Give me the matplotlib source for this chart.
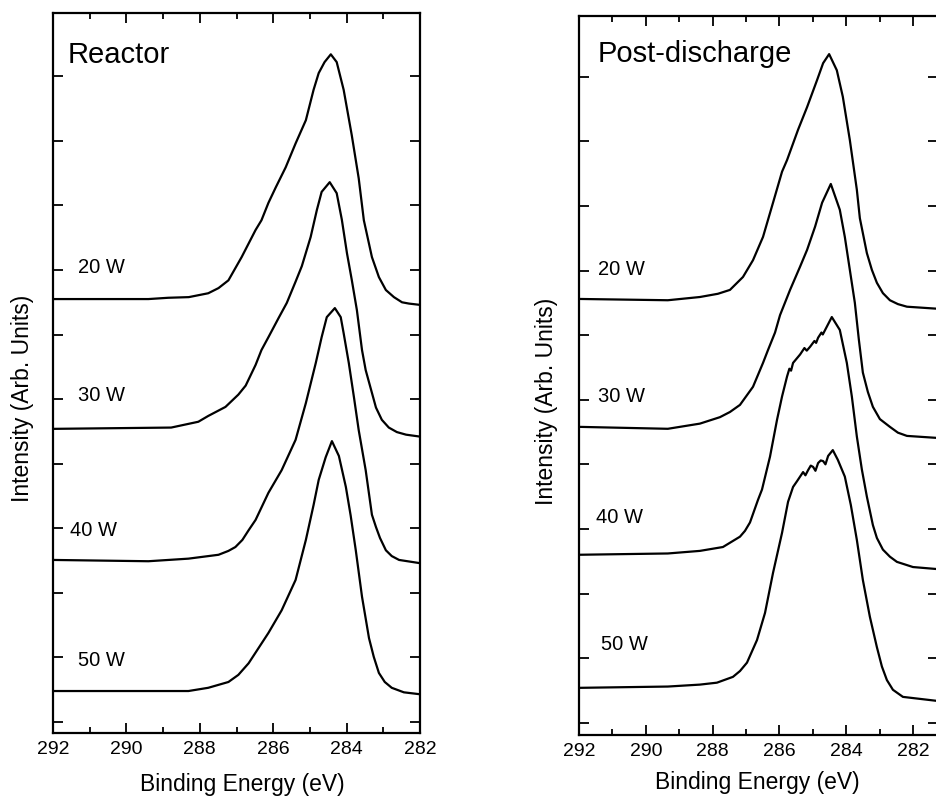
import matplotlib
matplotlib.use("Agg")
import matplotlib.pyplot as plt

plt.rcParams['font.family'] = ['Liberation Sans', 'DejaVu Sans']

# labels of the four spectra, top to bottom
powers = ["20 W", "30 W", "40 W", "50 W"]
xtick_values = [292, 290, 288, 286, 284, 282]

# Reactor panel: binding energy (eV) and intensity above each baseline
reactor_20_be = [292.0, 289.4, 288.86, 288.3, 287.77, 287.49, 287.22, 286.86, 286.48, 286.32,
                 286.13, 285.93, 285.66, 285.39, 285.11, 284.90, 284.76, 284.60, 284.43, 284.27,
                 284.08, 283.86, 283.67, 283.53, 283.31, 283.12, 282.93, 282.71, 282.49, 282.30,
                 282.0]
reactor_20_int = [0, 0, 0.02, 0.03, 0.09, 0.17, 0.29, 0.65, 1.07, 1.22,
                  1.49, 1.73, 2.04, 2.41, 2.77, 3.24, 3.50, 3.67, 3.79, 3.67,
                  3.24, 2.54, 1.87, 1.22, 0.65, 0.34, 0.14, 0.03, -0.05, -0.07,
                  -0.09]

reactor_30_be = [292.0, 288.78, 288.04, 287.77, 287.30, 286.95, 286.75, 286.48, 286.32, 286.13,
                 285.85, 285.63, 285.39, 285.22, 284.98, 284.81, 284.68, 284.46, 284.27, 284.13,
                 283.99, 283.86, 283.72, 283.58, 283.48, 283.20, 283.04, 282.85, 282.63, 282.38,
                 282.0]
reactor_30_int = [0, 0.02, 0.11, 0.20, 0.34, 0.53, 0.67, 0.99, 1.22, 1.42,
                  1.72, 1.95, 2.28, 2.52, 2.97, 3.39, 3.67, 3.82, 3.65, 3.24,
                  2.72, 2.31, 1.84, 1.22, 0.91, 0.33, 0.14, 0.02, -0.05, -0.09,
                  -0.12]

reactor_40_be = [292.0, 289.40, 288.31, 287.49, 287.22, 287.03, 286.84, 286.67, 286.48, 286.13,
                 285.77, 285.39, 285.11, 284.84, 284.76, 284.68, 284.54, 284.32, 284.16, 284.08,
                 283.94, 283.80, 283.67, 283.48, 283.31, 283.20, 283.09, 282.93, 282.77, 282.57,
                 282.0]
reactor_40_int = [0, -0.02, 0.02, 0.08, 0.14, 0.20, 0.31, 0.46, 0.62, 1.04,
                  1.39, 1.86, 2.43, 3.05, 3.25, 3.45, 3.76, 3.90, 3.76, 3.51,
                  3.05, 2.52, 2.01, 1.39, 0.70, 0.51, 0.34, 0.15, 0.06, 0,
                  -0.05]

reactor_50_be = [292.0, 288.31, 287.77, 287.22, 286.95, 286.67, 286.13, 285.77, 285.39, 285.11,
                 284.90, 284.76, 284.57, 284.40, 284.21, 284.02, 283.89, 283.75, 283.58, 283.39,
                 283.26, 283.12, 282.96, 282.77, 282.44, 282.0]
reactor_50_int = [0, 0, 0.05, 0.14, 0.25, 0.43, 0.90, 1.25, 1.72, 2.34,
                  2.88, 3.27, 3.62, 3.87, 3.64, 3.16, 2.72, 2.18, 1.46, 0.82,
                  0.53, 0.28, 0.14, 0.05, -0.02, -0.05]

reactor_offsets = [6.55, 4.54, 2.51, 0.48]

# Post-discharge panel
post_20_be = [292.0, 289.34, 288.38, 287.84, 287.48, 287.09, 286.79, 286.49, 286.19, 285.92,
              285.77, 285.44, 285.17, 284.87, 284.69, 284.51, 284.28, 284.10, 283.89, 283.68,
              283.59, 283.38, 283.23, 283.08, 282.90, 282.69, 282.45, 282.18, 281.31]
post_20_int = [0, -0.02, 0.03, 0.08, 0.14, 0.34, 0.60, 0.96, 1.49, 1.97,
               2.15, 2.62, 2.97, 3.39, 3.65, 3.79, 3.54, 3.13, 2.46, 1.69,
               1.25, 0.71, 0.45, 0.25, 0.09, -0.02, -0.08, -0.12, -0.15]

post_30_be = [292.0, 289.34, 288.38, 287.78, 287.48, 287.18, 286.79, 286.49, 286.34, 286.13,
              285.98, 285.68, 285.38, 285.17, 284.93, 284.72, 284.46, 284.19, 284.04, 283.89,
              283.74, 283.62, 283.50, 283.35, 283.20, 282.99, 282.69, 282.45, 282.18, 281.31]
post_30_int = [0, -0.03, 0.05, 0.15, 0.23, 0.34, 0.62, 0.99, 1.19, 1.46,
               1.73, 2.12, 2.48, 2.74, 3.10, 3.47, 3.76, 3.36, 2.94, 2.43,
               1.92, 1.35, 0.84, 0.54, 0.31, 0.12, 0, -0.09, -0.14, -0.17]

post_40_be = [292.0, 289.34, 288.38, 287.69, 287.18, 287.03, 286.88, 286.64, 286.52, 286.28,
              286.07, 285.92, 285.77, 285.70, 285.65, 285.59, 285.38, 285.25, 285.18, 285.08,
              284.95, 284.90, 284.84, 284.74, 284.70, 284.63, 284.43, 284.19, 283.98, 283.83,
              283.68, 283.53, 283.38, 283.20, 283.08, 282.90, 282.69, 282.48, 282.00, 281.31]
post_40_int = [0, 0.02, 0.06, 0.12, 0.28, 0.37, 0.50, 0.85, 1.01, 1.52,
               2.09, 2.45, 2.76, 2.88, 2.85, 2.97, 3.10, 3.20, 3.16, 3.22,
               3.31, 3.28, 3.36, 3.44, 3.41, 3.48, 3.68, 3.48, 2.97, 2.45,
               1.83, 1.32, 0.90, 0.46, 0.26, 0.08, -0.03, -0.11, -0.19, -0.22]

post_50_be = [292.0, 289.34, 288.38, 287.87, 287.39, 287.18, 286.97, 286.67, 286.43, 286.19,
              285.92, 285.74, 285.59, 285.47, 285.29, 285.22, 285.14, 285.06, 284.99, 284.92,
              284.84, 284.76, 284.69, 284.62, 284.54, 284.40, 284.25, 284.04, 283.86, 283.68,
              283.50, 283.29, 283.08, 282.93, 282.78, 282.60, 282.30, 281.31]
post_50_int = [0, 0.02, 0.05, 0.08, 0.17, 0.26, 0.39, 0.74, 1.16, 1.78,
               2.40, 2.88, 3.11, 3.20, 3.34, 3.29, 3.37, 3.44, 3.42, 3.36,
               3.48, 3.52, 3.51, 3.46, 3.59, 3.68, 3.53, 3.27, 2.83, 2.29,
               1.67, 1.10, 0.63, 0.33, 0.12, -0.03, -0.14, -0.20]

post_offsets = [6.56, 4.58, 2.60, 0.54]


# style one panel like the scanned figure
def setup_axes(ax, x_right, y_bottom, y_top):
    ax.set_xlim(292, x_right)
    ax.set_ylim(y_bottom, y_top)
    ax.set_xticks(xtick_values)
    ax.set_xticklabels([str(v) for v in xtick_values])
    ax.set_xticks(list(range(283, 292, 2)), minor=True)
    ax.set_yticks(list(range(0, 11)))
    ax.tick_params(which='both', direction='in', top=True, right=True, width=1.3,
                   labelleft=False)
    ax.tick_params(which='major', length=7, labelsize=14, pad=6)
    ax.tick_params(which='minor', length=4)
    for spine in ax.spines.values():
        spine.set_linewidth(1.6)


def draw_panel(ax, curves, offsets, label_pos):
    for i in range(len(curves)):
        be, inten = curves[i]
        y = [v + offsets[i] for v in inten]
        ax.plot(be, y, color='black', linewidth=1.6, solid_joinstyle='round')
        ax.text(label_pos[i][0], label_pos[i][1], powers[i], fontsize=14.5,
                ha='left', va='center')


def main():
    fig = plt.figure(figsize=(9.36, 7.98), dpi=100)

    ax1 = fig.add_axes([53 / 936, 1 - 733 / 798, 367 / 936, 720 / 798])
    setup_axes(ax1, 282, -0.17, 10.98)
    reactor_curves = [(reactor_20_be, reactor_20_int), (reactor_30_be, reactor_30_int),
                      (reactor_40_be, reactor_40_int), (reactor_50_be, reactor_50_int)]
    draw_panel(ax1, reactor_curves, reactor_offsets,
               [(291.32, 7.04), (291.32, 5.06), (291.54, 2.97), (291.32, 0.96)])
    ax1.text(0.041, 0.931, "Reactor", transform=ax1.transAxes, fontsize=21,
             ha='left', va='baseline')

    ax2 = fig.add_axes([579 / 936, 1 - 735 / 798, 359 / 936, 719 / 798])
    setup_axes(ax2, 281.25, -0.19, 10.94)
    post_curves = [(post_20_be, post_20_int), (post_30_be, post_30_int),
                   (post_40_be, post_40_int), (post_50_be, post_50_int)]
    draw_panel(ax2, post_curves, post_offsets,
               [(291.43, 7.01), (291.43, 5.05), (291.49, 3.17), (291.34, 1.21)])
    ax2.text(0.053, 0.936, "Post-discharge", transform=ax2.transAxes, fontsize=21,
             ha='left', va='baseline')

    # axis titles placed by hand
    fig.text(23 / 936, 0.501, "Intensity (Arb. Units)", rotation=90, fontsize=16.5,
             ha='center', va='center')
    fig.text(546 / 936, 0.497, "Intensity (Arb. Units)", rotation=90, fontsize=16.5,
             ha='center', va='center')
    fig.text(242 / 936, 1 - 785 / 798, "Binding Energy (eV)", fontsize=16.5,
             ha='center', va='center')
    fig.text(757 / 936, 1 - 783 / 798, "Binding Energy (eV)", fontsize=16.5,
             ha='center', va='center')

    fig.savefig("out.png", dpi=100)


if __name__ == "__main__":
    main()
